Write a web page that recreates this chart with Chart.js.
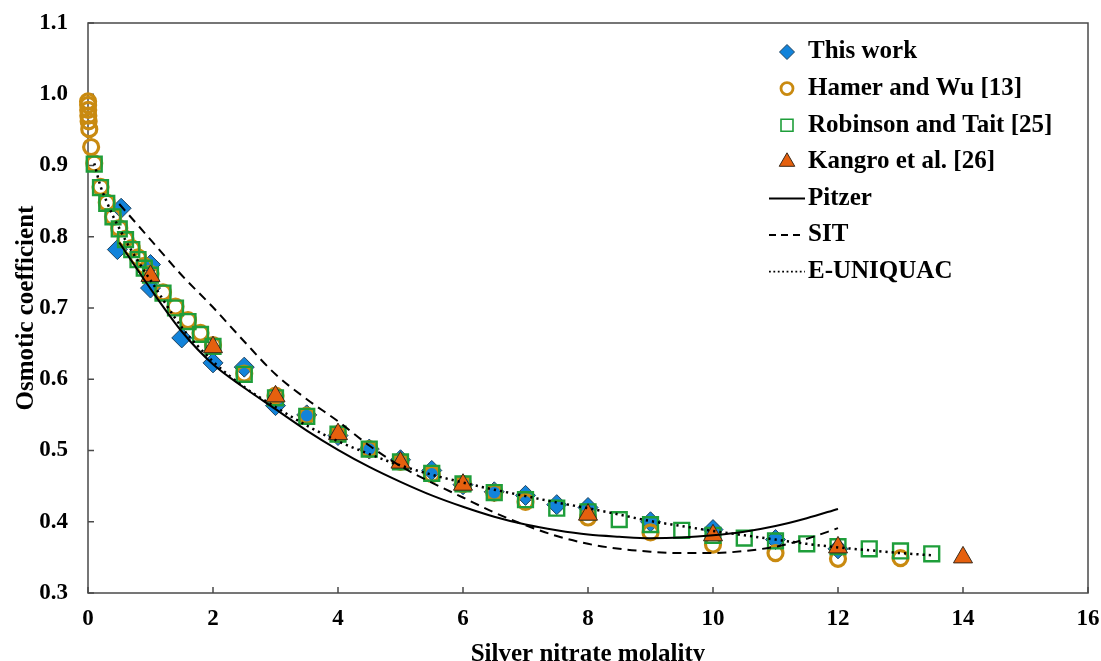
<!DOCTYPE html>
<html>
<head>
<meta charset="utf-8">
<script src="https://cdn.jsdelivr.net/npm/chart.js@4.4.1/dist/chart.umd.min.js"></script>
<style>
  html, body { margin: 0; padding: 0; background: #fff; overflow: hidden; }
  #wrap { width: 1101px; height: 670px; position: relative; }
</style>
</head>
<body>
<div id="wrap"><canvas id="osmoticChart"></canvas></div>
<script>
// experimental points
const thisWorkX = [0.53, 0.47, 1.0, 1.0, 1.5, 2.0, 2.5, 3.0, 3.5, 4.0, 4.5, 5.0, 5.5, 6.0, 6.5, 7.0, 7.5, 8.0, 9.0, 10.0, 11.0, 12.0];
const thisWorkY = [0.840, 0.782, 0.761, 0.728, 0.658, 0.623, 0.617, 0.563, 0.550, 0.521, 0.502, 0.487, 0.472, 0.452, 0.442, 0.437, 0.424, 0.420, 0.400, 0.389, 0.375, 0.362];

const hamerX = [0.001, 0.002, 0.003, 0.005, 0.01, 0.02, 0.05, 0.1, 0.2, 0.3, 0.4, 0.5, 0.6, 0.7, 0.8, 0.9, 1.0, 1.2, 1.4, 1.6, 1.8, 2.0, 2.5, 3.0, 3.5, 4.0, 4.5, 5.0, 5.5, 6.0, 6.5, 7.0, 8.0, 9.0, 10.0, 11.0, 12.0, 13.0];
const hamerY = [0.990, 0.985, 0.978, 0.970, 0.962, 0.951, 0.926, 0.903, 0.870, 0.848, 0.828, 0.812, 0.797, 0.784, 0.771, 0.759, 0.748, 0.722, 0.702, 0.683, 0.665, 0.648, 0.608, 0.577, 0.549, 0.523, 0.502, 0.484, 0.467, 0.453, 0.441, 0.428, 0.406, 0.385, 0.368, 0.356, 0.348, 0.349];

const robinsonX = [0.1, 0.2, 0.3, 0.4, 0.5, 0.6, 0.7, 0.8, 0.9, 1.0, 1.2, 1.4, 1.6, 1.8, 2.0, 2.5, 3.0, 3.5, 4.0, 4.5, 5.0, 5.5, 6.0, 6.5, 7.0, 7.5, 8.0, 8.5, 9.0, 9.5, 10.0, 10.5, 11.0, 11.5, 12.0, 12.5, 13.0, 13.5];
const robinsonY = [0.902, 0.869, 0.847, 0.828, 0.811, 0.796, 0.782, 0.768, 0.756, 0.746, 0.721, 0.700, 0.681, 0.663, 0.646, 0.607, 0.574, 0.548, 0.523, 0.502, 0.484, 0.468, 0.453, 0.441, 0.431, 0.419, 0.414, 0.403, 0.396, 0.388, 0.381, 0.377, 0.373, 0.369, 0.365, 0.362, 0.359, 0.355];

const kangroX = [1, 2, 3, 4, 5, 6, 8, 10, 12, 14];
const kangroY = [0.745, 0.645, 0.576, 0.523, 0.483, 0.452, 0.410, 0.381, 0.364, 0.350];

// model curves
const pitzerX = [0.5, 1.0, 1.5, 2.0, 2.5, 3.0, 3.5, 4.0, 4.5, 5.0, 5.5, 6.0, 6.5, 7.0, 7.5, 8.0, 8.5, 9.0, 9.5, 10.0, 10.5, 11.0, 11.5, 12.0];
const pitzerY = [0.792, 0.727, 0.667, 0.621, 0.588, 0.558, 0.528, 0.501, 0.477, 0.456, 0.437, 0.421, 0.407, 0.396, 0.388, 0.382, 0.379, 0.377, 0.378, 0.381, 0.386, 0.394, 0.405, 0.418];

const sitX = [0.5, 1.0, 1.5, 2.0, 2.5, 3.0, 3.5, 4.0, 4.5, 5.0, 5.5, 6.0, 6.5, 7.0, 7.5, 8.0, 8.5, 9.0, 9.5, 10.0, 10.5, 11.0, 11.5, 12.0];
const sitY = [0.846, 0.796, 0.746, 0.701, 0.653, 0.607, 0.572, 0.541, 0.507, 0.478, 0.455, 0.434, 0.413, 0.395, 0.380, 0.369, 0.362, 0.358, 0.356, 0.356, 0.359, 0.365, 0.376, 0.391];

const uniquacX = [0.1, 0.2, 0.3, 0.4, 0.5, 0.6, 0.7, 0.8, 0.9, 1.0, 1.5, 2.0, 2.5, 3.0, 3.5, 4.0, 4.5, 5.0, 5.5, 6.0, 6.5, 7.0, 7.5, 8.0, 8.5, 9.0, 9.5, 10.0, 10.5, 11.0, 11.5, 12.0, 12.5, 13.0, 13.5];
const uniquacY = [0.903, 0.871, 0.849, 0.829, 0.812, 0.795, 0.780, 0.766, 0.752, 0.739, 0.673, 0.625, 0.589, 0.561, 0.535, 0.513, 0.495, 0.479, 0.466, 0.455, 0.445, 0.436, 0.427, 0.419, 0.410, 0.401, 0.394, 0.387, 0.381, 0.375, 0.369, 0.364, 0.360, 0.356, 0.353];

const xTicks = [0, 2, 4, 6, 8, 10, 12, 14, 16];
const yTicks = [0.3, 0.4, 0.5, 0.6, 0.7, 0.8, 0.9, 1.0, 1.1];

const legendLabels = ['This work', 'Hamer and Wu [13]', 'Robinson and Tait [25]', 'Kangro et al. [26]', 'Pitzer', 'SIT', 'E-UNIQUAC'];

const FONT = "'Liberation Serif', 'Times New Roman', serif";
const BLUE = '#1283DA';
const GOLD = '#C98A10';
const GREEN = '#1E9E3A';
const ORANGE = '#E5600E';

function toPoints(xs, ys) {
    return xs.map((x, i) => ({ x: x, y: ys[i] }));
}

// box around the plot area plus the small inward tick marks
const frameAndTicks = {
    id: 'frameAndTicks',
    beforeDatasetsDraw(chart) {
        const { ctx, chartArea: a, scales } = chart;
        ctx.save();
        ctx.strokeStyle = '#4a4a4a';
        ctx.lineWidth = 1.5;
        ctx.strokeRect(a.left, a.top, a.right - a.left, a.bottom - a.top);
        ctx.beginPath();
        yTicks.forEach(v => {
            const y = scales.y.getPixelForValue(v);
            ctx.moveTo(a.left, y);
            ctx.lineTo(a.left + 6, y);
        });
        xTicks.forEach(v => {
            const x = scales.x.getPixelForValue(v);
            ctx.moveTo(x, a.bottom);
            ctx.lineTo(x, a.bottom - 6);
        });
        ctx.stroke();
        ctx.restore();
    }
};

function legendMarker(ctx, kind, x, y) {
    ctx.save();
    ctx.beginPath();
    if (kind === 0) {
        const r = 7.5;
        ctx.moveTo(x - r, y); ctx.lineTo(x, y - r); ctx.lineTo(x + r, y); ctx.lineTo(x, y + r);
        ctx.closePath();
        ctx.fillStyle = BLUE; ctx.fill();
        ctx.strokeStyle = '#20435f'; ctx.lineWidth = 1; ctx.stroke();
    } else if (kind === 1) {
        ctx.arc(x, y, 6, 0, Math.PI * 2);
        ctx.strokeStyle = GOLD; ctx.lineWidth = 2.8; ctx.stroke();
    } else if (kind === 2) {
        ctx.rect(x - 6, y - 6, 12, 12);
        ctx.strokeStyle = GREEN; ctx.lineWidth = 1.6; ctx.stroke();
    } else if (kind === 3) {
        const r = 9;
        ctx.moveTo(x, y - r);
        ctx.lineTo(x + r * 0.866, y + r / 2);
        ctx.lineTo(x - r * 0.866, y + r / 2);
        ctx.closePath();
        ctx.fillStyle = ORANGE; ctx.fill();
        ctx.strokeStyle = '#3a2a1a'; ctx.lineWidth = 1; ctx.stroke();
    } else {
        ctx.strokeStyle = '#000';
        ctx.lineWidth = kind === 6 ? 1.8 : 2;
        if (kind === 5) ctx.setLineDash([7, 5]);
        if (kind === 6) ctx.setLineDash([1.8, 2.6]);
        ctx.moveTo(x - 18, y);
        ctx.lineTo(x + 18, y);
        ctx.stroke();
    }
    ctx.restore();
}

const insideLegend = {
    id: 'insideLegend',
    afterDraw(chart) {
        const { ctx, chartArea: a } = chart;
        const markX = a.right - 301;
        const textX = a.right - 280;
        ctx.save();
        ctx.font = 'bold 25px ' + FONT;
        ctx.fillStyle = '#000';
        ctx.textBaseline = 'middle';
        legendLabels.forEach((label, i) => {
            const y = a.top + 29 + i * 36.6;
            legendMarker(ctx, i, markX, y);
            ctx.fillText(label, textX, y);
        });
        ctx.restore();
    }
};

const ctx = document.getElementById('osmoticChart').getContext('2d');
new Chart(ctx, {
    type: 'scatter',
    data: {
        datasets: [
            {
                label: 'Pitzer',
                data: toPoints(pitzerX, pitzerY),
                showLine: true,
                pointRadius: 0,
                borderColor: '#000',
                borderWidth: 2,
                cubicInterpolationMode: 'monotone',
                clip: false
            },
            {
                label: 'SIT',
                data: toPoints(sitX, sitY),
                showLine: true,
                pointRadius: 0,
                borderColor: '#000',
                borderWidth: 2,
                borderDash: [9, 6],
                cubicInterpolationMode: 'monotone',
                clip: false
            },
            {
                label: 'E-UNIQUAC',
                data: toPoints(uniquacX, uniquacY),
                showLine: true,
                pointRadius: 0,
                borderColor: '#000',
                borderWidth: 2.5,
                borderDash: [2.2, 4],
                cubicInterpolationMode: 'monotone',
                clip: false
            },
            {
                label: 'Kangro et al. [26]',
                data: toPoints(kangroX, kangroY),
                pointStyle: 'triangle',
                pointRadius: 11,
                backgroundColor: ORANGE,
                borderColor: '#3a2a1a',
                borderWidth: 1,
                clip: false
            },
            {
                label: 'Robinson and Tait [25]',
                data: toPoints(robinsonX, robinsonY),
                pointStyle: 'rect',
                pointRadius: 10.5,
                backgroundColor: 'rgba(0,0,0,0)',
                borderColor: GREEN,
                borderWidth: 2.4,
                clip: false
            },
            {
                label: 'Hamer and Wu [13]',
                data: toPoints(hamerX, hamerY),
                pointStyle: 'circle',
                pointRadius: 7.5,
                backgroundColor: 'rgba(0,0,0,0)',
                borderColor: GOLD,
                borderWidth: 3.2,
                clip: false
            },
            {
                label: 'This work',
                data: toPoints(thisWorkX, thisWorkY),
                pointStyle: 'rectRot',
                pointRadius: 10,
                backgroundColor: BLUE,
                borderColor: '#20435f',
                borderWidth: 1,
                clip: false
            }
        ]
    },
    options: {
        responsive: true,
        maintainAspectRatio: false,
        animation: false,
        layout: { autoPadding: false, padding: { left: 0, right: 13, top: 23, bottom: 0 } },
        plugins: {
            legend: { display: false },
            tooltip: { enabled: false }
        },
        scales: {
            x: {
                type: 'linear',
                min: 0,
                max: 16,
                afterBuildTicks: scale => { scale.ticks = xTicks.map(v => ({ value: v })); },
                afterFit: scale => {
                    scale.height = 77;
                    scale.paddingLeft = 0;
                    scale.paddingRight = 0;
                },
                grid: { display: false, drawTicks: false },
                border: { display: false },
                ticks: {
                    padding: 12,
                    color: '#000',
                    font: { family: FONT, size: 23, weight: 'bold' },
                    maxRotation: 0
                },
                title: {
                    display: true,
                    text: 'Silver nitrate molality',
                    color: '#000',
                    font: { family: FONT, size: 25, weight: 'bold' },
                    padding: { top: 0, bottom: 0 }
                }
            },
            y: {
                type: 'linear',
                min: 0.3,
                max: 1.1,
                afterBuildTicks: scale => { scale.ticks = yTicks.map(v => ({ value: v })); },
                afterFit: scale => {
                    scale.width = 88;
                    scale.paddingTop = 0;
                    scale.paddingBottom = 0;
                },
                grid: { display: false, drawTicks: false },
                border: { display: false },
                ticks: {
                    padding: 20,
                    color: '#000',
                    font: { family: FONT, size: 23, weight: 'bold' },
                    callback: v => v.toFixed(1)
                },
                title: {
                    display: true,
                    text: 'Osmotic coefficient',
                    color: '#000',
                    font: { family: FONT, size: 25, weight: 'bold' },
                    padding: { top: 12, bottom: 0 }
                }
            }
        }
    },
    plugins: [frameAndTicks, insideLegend]
});
</script>
</body>
</html>
